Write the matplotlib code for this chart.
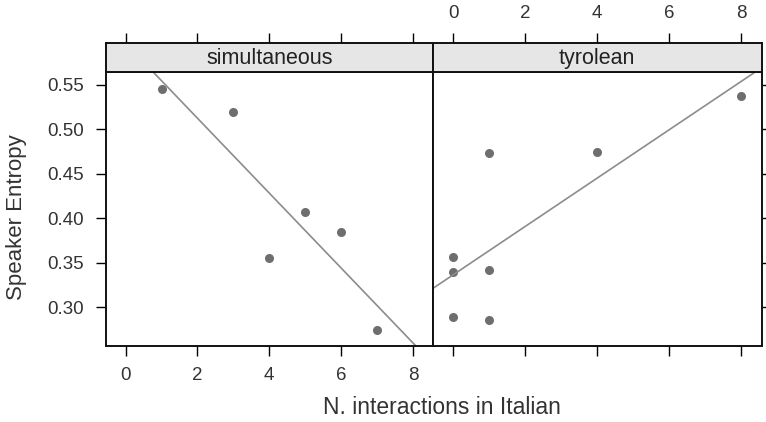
import numpy as np
from matplotlib import pyplot as plt

# data (lattice xyplot, two panels)
panels = ['simultaneous', 'tyrolean']
x_simultaneous = [1, 3, 4, 5, 6, 7]
y_simultaneous = [0.545, 0.520, 0.355, 0.407, 0.385, 0.275]
x_tyrolean = [0, 0, 1, 0, 1, 1, 4, 8]
y_tyrolean = [0.357, 0.340, 0.342, 0.289, 0.286, 0.474, 0.475, 0.538]

xticks = [0, 2, 4, 6, 8]
yticks = [0.30, 0.35, 0.40, 0.45, 0.50, 0.55]
xlim = (-0.56, 8.56)
ylim = (0.2572, 0.5646)

plt.rcParams['font.family'] = ['Liberation Sans', 'DejaVu Sans']
txt = '#333333'

W, H = 766, 422
fig = plt.figure(figsize=(W / 100, H / 100), dpi=100)

left, mid, right = 105.5, 433, 761.5
bot, top, strip_top = 345.5, 72, 43.5

data = [(x_simultaneous, y_simultaneous), (x_tyrolean, y_tyrolean)]
edges = [(left, mid), (mid, right)]

for i, (name, (xs, ys), (x0, x1)) in enumerate(zip(panels, data, edges)):
    ax = fig.add_axes([x0 / W, 1 - bot / H, (x1 - x0) / W, (bot - top) / H])
    st = fig.add_axes([x0 / W, 1 - top / H, (x1 - x0) / W, (top - strip_top) / H])

    ax.plot(xs, ys, 'o', color='#6e6e6e', markersize=6.5, markeredgewidth=0)
    k, b = np.polyfit(xs, ys, 1)
    lx = np.array(xlim)
    ax.plot(lx, k * lx + b, color='#8c8c8c', lw=1.2)

    ax.set_xlim(xlim)
    ax.set_ylim(ylim)
    st.set_xlim(xlim)
    st.set_ylim(0, 1)
    ax.set_xticks(xticks)
    ax.set_yticks(yticks)
    st.set_xticks(xticks)
    st.set_yticks([])
    st.set_facecolor('#e6e6e6')
    st.text(0.5, 0.47, name, transform=st.transAxes, ha='center', va='center',
            fontsize=15.5, color='#222222')

    for a in (ax, st):
        for s in a.spines.values():
            s.set_linewidth(1.4)
            s.set_color('#111111')

    ax.tick_params(direction='out', length=7.5, width=1, color='black',
                   labelcolor=txt, labelsize=13.5, pad=8)
    st.tick_params(axis='x', direction='out', length=7.5, width=1, color='black',
                   labelcolor=txt, labelsize=13.5, pad=8,
                   top=True, bottom=False, labeltop=(i == 1), labelbottom=False)

    if i == 0:
        ax.tick_params(axis='y', left=True, right=False, labelleft=True)
        ax.tick_params(axis='x', bottom=True, labelbottom=True)
        ax.set_yticklabels(['%.2f' % v for v in yticks])
    else:
        ax.tick_params(axis='y', left=False, right=True, labelleft=False)
        ax.tick_params(axis='x', bottom=True, labelbottom=False)

fig.text(442 / W, 1 - 408 / H, 'N. interactions in Italian', ha='center',
         va='center', fontsize=16.5, color=txt)
fig.text(17 / W, 1 - 217 / H, 'Speaker Entropy', ha='center', va='center',
         rotation=90, fontsize=16, color=txt)

fig.savefig('out.png', dpi=100)
plt.close(fig)
